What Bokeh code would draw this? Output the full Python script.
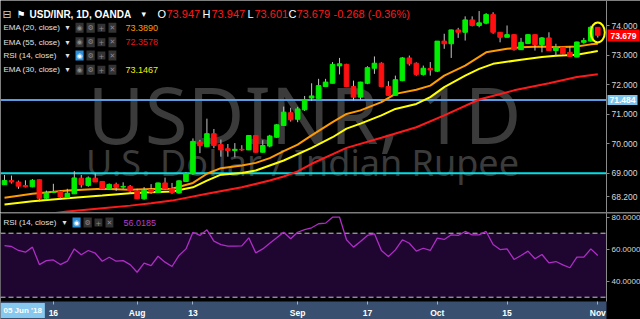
from bokeh.plotting import figure
from bokeh.layouts import column
from bokeh.models import (Range1d, FixedTicker, Label, Span, BoxAnnotation,
                          NumeralTickFormatter, ColumnDataSource)
from bokeh.embed import file_html
from bokeh.resources import INLINE

# ---------------- data ----------------
opens = [68.61, 68.75, 68.70, 68.58, 68.54, 68.78, 68.15, 68.35, 68.38, 68.18,
         68.30, 68.83, 68.58, 68.83, 68.72, 68.47, 68.62, 68.53, 68.55, 68.40,
         68.13, 68.44, 68.34, 68.67, 68.47, 68.33, 68.72, 68.98, 70.06, 69.90,
         70.34, 69.97, 69.83, 69.77, 69.81, 69.79, 70.28, 69.71, 69.92, 70.22,
         70.62, 71.05, 70.83, 71.15, 71.55, 71.54, 71.94, 72.05, 72.64, 72.69,
         71.94, 71.58, 72.05, 72.56, 72.73, 71.94, 71.64, 72.14, 72.91, 72.73,
         72.35, 72.55, 72.46, 73.48, 73.39, 73.86, 73.78, 74.20, 74.01, 74.09,
         74.38, 73.78, 73.61, 73.70, 73.19, 73.40, 73.70, 73.36, 73.59, 73.16,
         73.27, 73.10, 72.94, 73.44, 73.48, 73.947]
highs = [68.94, 68.92, 68.75, 68.76, 68.80, 68.79, 68.41, 68.64, 68.42, 68.47,
         69.07, 68.94, 68.89, 68.99, 68.72, 68.65, 68.68, 68.69, 68.60, 68.47,
         68.53, 68.63, 68.68, 68.85, 68.67, 68.76, 69.03, 70.18, 70.13, 70.85,
         70.50, 70.14, 69.99, 70.02, 69.95, 70.29, 70.29, 70.12, 70.30, 70.67,
         71.26, 71.22, 71.25, 71.62, 72.05, 72.20, 72.20, 72.77, 72.91, 72.71,
         72.14, 72.10, 72.63, 72.96, 72.76, 72.12, 72.31, 72.94, 72.99, 72.76,
         72.65, 72.77, 73.48, 73.73, 73.87, 73.93, 74.32, 74.32, 74.50, 74.43,
         74.46, 73.78, 74.01, 73.71, 73.59, 73.72, 73.71, 73.62, 73.78, 73.39,
         73.28, 73.30, 73.46, 73.59, 74.00, 73.947]
lows = [68.60, 68.65, 68.47, 68.52, 68.52, 68.03, 68.10, 68.33, 68.09, 68.15,
        68.30, 68.51, 68.54, 68.70, 68.43, 68.45, 68.40, 68.47, 68.30, 68.12,
        68.10, 68.30, 68.33, 68.44, 68.30, 68.30, 68.70, 68.95, 69.68, 69.88,
        69.85, 69.56, 69.56, 69.54, 69.75, 69.78, 69.70, 69.70, 69.88, 70.20,
        70.60, 70.75, 70.73, 71.11, 71.45, 71.52, 71.94, 72.05, 72.35, 71.92,
        71.47, 71.49, 72.02, 72.37, 71.92, 71.63, 71.63, 72.12, 72.65, 72.31,
        72.31, 72.31, 72.43, 73.22, 72.91, 73.59, 73.50, 73.98, 73.95, 74.05,
        73.73, 73.44, 73.61, 73.16, 73.18, 73.38, 73.16, 73.10, 73.15, 72.96,
        73.02, 72.94, 72.93, 73.39, 73.46, 73.601]
closes = [68.75, 68.70, 68.56, 68.54, 68.76, 68.15, 68.33, 68.37, 68.19, 68.32,
          68.84, 68.61, 68.84, 68.70, 68.47, 68.62, 68.52, 68.55, 68.40, 68.13,
          68.42, 68.36, 68.67, 68.47, 68.34, 68.74, 68.99, 70.08, 69.93, 70.34,
          69.94, 69.79, 69.77, 69.81, 69.79, 70.28, 69.71, 69.94, 70.26, 70.64,
          71.07, 70.81, 71.18, 71.49, 71.62, 71.97, 72.09, 72.69, 72.71, 71.94,
          71.58, 72.09, 72.58, 72.73, 71.94, 71.64, 72.17, 72.91, 72.71, 72.35,
          72.56, 72.50, 73.48, 73.39, 73.86, 73.78, 74.20, 74.01, 74.10, 74.38,
          73.78, 73.61, 73.70, 73.19, 73.44, 73.70, 73.36, 73.59, 73.16, 73.27,
          73.05, 72.96, 73.45, 73.50, 73.95, 73.679]

ema20_idx = [0, 4, 9, 14, 18, 21, 24, 27, 29, 31, 34, 36, 38, 40, 42, 44, 47, 49,
             51, 54, 56, 59, 61, 63, 66, 69, 72, 74, 77, 79, 82, 84, 85]
ema20_val = [68.17, 68.30, 68.41, 68.47, 68.44, 68.46, 68.47, 68.67, 68.98, 69.17,
             69.26, 69.35, 69.51, 69.75, 69.97, 70.28, 70.73, 71.01, 71.13, 71.41,
             71.69, 71.83, 71.97, 72.31, 72.65, 73.10, 73.22, 73.27, 73.30, 73.27,
             73.30, 73.37, 73.389]
ema30_idx = [0, 4, 9, 14, 18, 21, 24, 27, 29, 31, 34, 36, 38, 40, 44, 47, 49, 51,
             54, 56, 59, 61, 63, 66, 68, 70, 74, 77, 79, 82, 84, 85]
ema30_val = [67.94, 68.05, 68.15, 68.24, 68.32, 68.35, 68.38, 68.52, 68.75, 68.95,
             69.01, 69.09, 69.26, 69.43, 69.86, 70.22, 70.51, 70.68, 70.96, 71.18,
             71.35, 71.58, 71.92, 72.31, 72.54, 72.71, 72.85, 72.94, 72.98, 73.02,
             73.10, 73.147]
ema55_idx = [7, 9, 14, 18, 21, 24, 29, 34, 38, 40, 42, 44, 49, 54, 59, 63, 68, 73,
             78, 82, 85]
ema55_val = [67.64, 67.70, 67.81, 67.90, 67.98, 68.07, 68.30, 68.52, 68.75, 68.89,
             69.06, 69.32, 69.86, 70.20, 70.56, 70.96, 71.50, 71.81, 72.05, 72.26,
             72.358]

rsi = [62.3, 61.7, 59.2, 58.1, 61.3, 50.4, 52.9, 53.3, 50.4, 52.5,
       60.2, 56.5, 59.2, 57.5, 52.5, 55.0, 52.5, 52.9, 50.4, 45.6,
       51.3, 49.8, 55.6, 51.9, 49.2, 56.1, 60.2, 70.6, 68.6, 72.1,
       65.0, 62.9, 61.9, 61.9, 62.1, 67.1, 57.7, 60.2, 63.7, 67.1,
       70.6, 66.5, 70.6, 72.3, 73.4, 75.9, 76.3, 80.0, 80.0, 65.9,
       61.3, 64.8, 68.6, 69.6, 59.2, 55.4, 59.6, 65.9, 63.7, 58.8,
       60.6, 59.2, 66.9, 66.1, 69.0, 68.6, 71.1, 69.0, 69.0, 71.1,
       62.9, 59.8, 60.2, 53.6, 56.1, 58.8, 54.0, 56.7, 51.5, 52.3,
       50.2, 48.4, 55.0, 55.0, 60.2, 56.0185]

hline_blue = 71.484
hline_cyan = 69.0
price_ticks = [68.2, 69.0, 70.0, 71.0, 72.0, 73.0, 74.0]
rsi_ticks = [40, 60, 80]
rsi_upper, rsi_lower = 70, 30
date_tick_idx = [7, 19, 27, 42, 52, 62, 72, 85]
date_tick_labels = ["16", "Aug", "13", "Sep", "17", "Oct", "15", "Nov"]
cursor_date = "05 Jun '18"
change_text = "-0.268 (-0.36%)"
ema20_last, ema55_last, rsi_last, ema30_last = "73.3890", "72.3578", "56.0185", "73.1467"

# ---------------- layout constants ----------------
W = 640
PX0, STEP = 4.0, 6.98           # pixel of first bar, pixels per bar
AXIS_PX = 606                   # pixel column of the price axis line
x_lo = -PX0 / STEP
x_hi = (W - PX0) / STEP
x_axis_at = (AXIS_PX - PX0) / STEP
MAIN_H = 212
RSI_H = 107
PX_PER_PRICE = 29.48
PRICE_TOP = 74.858
PRICE_BOT = PRICE_TOP - MAIN_H / PX_PER_PRICE
RSI_PX = 1.6                    # pixels per RSI point
RSI_TOP = 82.94
RSI_BOT = RSI_TOP - RSI_H / RSI_PX
RSI_FRAME_BOT = RSI_TOP - 89 / RSI_PX   # bottom of RSI pane (time strip below)

n = len(closes)
idx = list(range(n))
GREEN, RED = "#00ee00", "#ff1010"
FONT = "Liberation Sans"


def lab(fig, frame_h, x, ypix, text, size, color, font=FONT, style="normal",
        align="left", baseline="middle", bg=None, level="annotation", pad=None):
    l = Label(x=x, y=frame_h - ypix, x_units="screen", y_units="screen",
              text=text, text_font=font, text_font_size=f"{size}px",
              text_color=color, text_font_style=style, text_align=align,
              text_baseline=baseline, background_fill_color=bg, level=level)
    if pad is not None:
        try:
            l.padding = pad
        except Exception:
            pass
    fig.add_layout(l)
    return l


def style_yaxis(a, ticks, fmt, size):
    a.ticker = FixedTicker(ticks=ticks)
    a.formatter = NumeralTickFormatter(format=fmt)
    a.major_label_text_color = "#d8d8d8"
    a.major_label_text_font = FONT
    a.major_label_text_font_size = size
    a.axis_line_color = "#8a8a8a"
    a.major_tick_line_color = "#8a8a8a"
    a.major_tick_out = 3
    a.major_tick_in = 0
    a.minor_tick_line_color = None
    a.major_label_standoff = 2
    a.fixed_location = x_axis_at


# ---------------- main price panel ----------------
p = figure(width=W, height=MAIN_H, x_range=Range1d(x_lo, x_hi),
           y_range=Range1d(PRICE_BOT, PRICE_TOP), y_axis_location="right",
           x_axis_location=None, toolbar_location=None, output_backend="svg",
           min_border=0, background_fill_color="black", border_fill_color="black",
           outline_line_color=None)
p.grid.visible = False
style_yaxis(p.yaxis[0], price_ticks, "0.000", "8.5px")

# watermark
lab(p, MAIN_H, 304, 113, "USDINR, 1D", 78, "#3b3b3b", font="Noto Sans",
    align="center", baseline="alphabetic", level="underlay")
lab(p, MAIN_H, 302, 162, "U.S. Dollar / Indian Rupee", 36, "#3b3b3b",
    font="Noto Sans", align="center", baseline="alphabetic", level="underlay")

# horizontal lines, stopping at the price scale
p.segment(x0=[x_lo], x1=[x_axis_at], y0=[hline_blue], y1=[hline_blue],
          line_color="#5b9be0", line_width=2)
p.segment(x0=[x_lo], x1=[x_axis_at], y0=[hline_cyan], y1=[hline_cyan],
          line_color="#00dfe6", line_width=2)

# EMA lines
p.line(ema55_idx, ema55_val, line_color="#ff1a1a", line_width=2)
p.line(ema30_idx, ema30_val, line_color="#ffff00", line_width=2)
p.line(ema20_idx, ema20_val, line_color="#ff9a00", line_width=2)

# candles
src = ColumnDataSource(dict(
    x=idx, high=highs, low=lows,
    top=[max(o, c) for o, c in zip(opens, closes)],
    bottom=[min(o, c) for o, c in zip(opens, closes)],
    color=[GREEN if c >= o else RED for o, c in zip(opens, closes)],
))
p.segment(x0="x", y0="low", x1="x", y1="high", source=src, line_color="#c4c4c4", line_width=1)
p.vbar(x="x", top="top", bottom="bottom", width=0.66, source=src,
       fill_color="color", line_color="color", line_width=1)

# highlight ellipse around last candle
p.ellipse(x=[idx[-1]], y=[(highs[-1] + lows[-1]) / 2], width=2.0, height=0.68,
          fill_color=None, line_color="#ffff00", line_width=2)

# header
y1 = 13.5
lab(p, MAIN_H, 2, y1, "\u229f", 11, "#cccccc", font="DejaVu Sans")
lab(p, MAIN_H, 16, y1, "\u2691", 10, "#ffffff", font="DejaVu Sans")
lab(p, MAIN_H, 29, y1, "USD/INR, 1D, OANDA", 10, "#ffffff", style="bold")
lab(p, MAIN_H, 141, y1, "\u25be", 9, "#ffffff", font="DejaVu Sans")
ohlc_red = "#ff1a1a"
for letter, xl, val, xv in [("O", 157, opens[-1], 166), ("H", 202, highs[-1], 211),
                            ("L", 247, lows[-1], 254), ("C", 288, closes[-1], 296)]:
    lab(p, MAIN_H, xl, y1, letter, 11, "#ffffff")
    lab(p, MAIN_H, xv, y1, f"{val:.3f}", 11, ohlc_red)
lab(p, MAIN_H, 333, y1, change_text, 11, ohlc_red)

icons = ["\u25c9", "\u2699", "+", "\u2715"]


def legend_row(fig, fh, ypix, name, val, vcol, blue_first, xs_icons, xval):
    lab(fig, fh, 3, ypix, name, 8, "#e0e0e0")
    lab(fig, fh, xs_icons[0] - 10, ypix, "\u25be", 8, "#e0e0e0", font="DejaVu Sans")
    for k, (ic, xi) in enumerate(zip(icons, xs_icons)):
        bg = "#2a8fd8" if (blue_first and k == 0) else "#333333"
        tc = "#ffffff" if (blue_first and k == 0) else "#8a8a8a"
        lab(fig, fh, xi, ypix, ic, 7, tc, font="DejaVu Sans", bg=bg, pad=1)
    if val is not None:
        lab(fig, fh, xval, ypix, val, 9, vcol)


rows = [("EMA (20, close)", ema20_last, "#ff9a00", 27.3, False),
        ("EMA (55, close)", ema55_last, "#e81818", 41.7, False),
        ("RSI (14, close)", None, None, 55.0, True),
        ("EMA (30, close)", ema30_last, "#f0f000", 69.3, False)]
for name, val, vcol, yy, blue in rows:
    legend_row(p, MAIN_H, yy, name, val, vcol, blue, [75, 86, 97, 108], 125)

# price-scale boxes
lab(p, MAIN_H, AXIS_PX + 1, 35, f"{closes[-1]:.3f}", 8.5, "#ffffff",
    style="bold", bg="#ff0000", pad=3)
lab(p, MAIN_H, AXIS_PX + 1, 99.5, f"{hline_blue:.3f}", 8.5, "#ffffff",
    style="bold", bg="#7cc4ec", pad=2)

# ---------------- RSI panel (with time strip) ----------------
p2 = figure(width=W, height=RSI_H, x_range=p.x_range,
            y_range=Range1d(RSI_BOT, RSI_TOP), y_axis_location="right",
            toolbar_location=None, output_backend="svg", min_border=0,
            background_fill_color="black", border_fill_color="black",
            outline_line_color=None)
p2.grid.visible = False

p2.add_layout(BoxAnnotation(bottom=rsi_lower, top=rsi_upper, right=x_axis_at,
                            fill_color="#1e0631", fill_alpha=1.0, line_color=None,
                            level="underlay"))
# time strip background
p2.add_layout(BoxAnnotation(top=RSI_FRAME_BOT, right=x_axis_at, fill_color="#384f6f",
                            fill_alpha=1.0, line_color=None, level="underlay"))
for lv in (rsi_upper, rsi_lower):
    p2.segment(x0=[x_lo], x1=[x_axis_at], y0=[lv], y1=[lv], line_color="#c8c8c8",
               line_width=1, line_dash="5 3")
p2.line(idx, rsi, line_color="#b02cc6", line_width=1.3)
# separator between panes
p2.add_layout(Span(location=RSI_TOP - 0.5 / RSI_PX, dimension="width",
                   line_color="#7a7a7a", line_width=1, level="overlay"))

ay = p2.yaxis[0]
style_yaxis(ay, rsi_ticks, "0.0000", "8px")
ay.bounds = (RSI_FRAME_BOT, RSI_TOP)

axx = p2.xaxis[0]
axx.fixed_location = RSI_FRAME_BOT
axx.ticker = FixedTicker(ticks=date_tick_idx)
axx.major_label_overrides = {t: s for t, s in zip(date_tick_idx, date_tick_labels)}
axx.major_label_text_color = "#ffffff"
axx.major_label_text_font = FONT
axx.major_label_text_font_style = "bold"
axx.major_label_text_font_size = "8.5px"
axx.axis_line_color = None
axx.major_tick_line_color = "#9fb3cc"
axx.major_tick_out = 3
axx.major_tick_in = 0
axx.minor_tick_line_color = None
axx.major_label_standoff = 3

legend_row(p2, RSI_H, 222 - MAIN_H, "RSI (14, close)", rsi_last, "#b83ccc", True,
           [72, 83, 94, 105], 123)
lab(p2, RSI_H, 0, 310 - MAIN_H, cursor_date, 8, "#ffffff", style="bold",
    bg="#86c8ee", pad=3)

layout = column(p, p2, spacing=0)
open("out.html", "w").write(file_html(layout, INLINE))
